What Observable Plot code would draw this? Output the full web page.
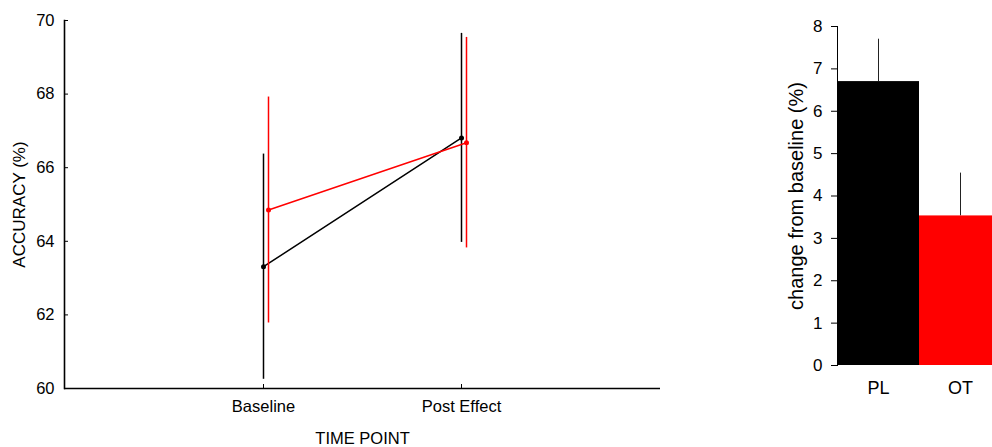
<!DOCTYPE html>
<html>
<head>
<meta charset="utf-8">
<script src="https://cdn.jsdelivr.net/npm/d3@7"></script>
<script src="https://cdn.jsdelivr.net/npm/@observablehq/plot@0.6"></script>
<style>
  html, body { margin: 0; padding: 0; background: white; overflow: hidden; }
  #wrap { position: relative; width: 992px; height: 447px; overflow: hidden; }
  #accuracy { position: absolute; left: 0; top: 0; }
  #change { position: absolute; left: 700px; top: 0; }
  svg { font-family: Arial, "Liberation Sans", sans-serif; }
</style>
</head>
<body>
<div id="wrap">
  <div id="accuracy"></div>
  <div id="change"></div>
</div>
<script>
// Accuracy by time point, mean ± error for each group
const timePoints = ["Baseline", "Post Effect"];
const plMean = [63.31, 66.81];
const plErr = [3.06, 2.84];
const otMean = [64.85, 66.68];
const otErr = [3.07, 2.86];

// Change from baseline per group
const groups = ["PL", "OT"];
const changeMean = [6.70, 3.53];
const changeErr = [1.00, 1.01];

const accuracyTicks = [60, 62, 64, 66, 68, 70];
const changeTicks = [0, 1, 2, 3, 4, 5, 6, 7, 8];

const pl = timePoints.map((t, i) => ({time: t, mean: plMean[i], lo: plMean[i] - plErr[i], hi: plMean[i] + plErr[i]}));
const ot = timePoints.map((t, i) => ({time: t, mean: otMean[i], lo: otMean[i] - otErr[i], hi: otMean[i] + otErr[i]}));

const left = Plot.plot({
  width: 700,
  height: 447,
  marginLeft: 64,
  marginRight: 40,
  marginTop: 20,
  marginBottom: 59,
  style: {fontSize: "16px", fontFamily: "Arial, 'Liberation Sans', sans-serif", color: "black", background: "white"},
  x: {type: "point", domain: timePoints, padding: 1},
  y: {domain: [60, 70]},
  marks: [
    Plot.axisY({ticks: accuracyTicks, tickSize: -4, tickPadding: 14, label: null, fontSize: 16.5}),
    Plot.text(["ACCURACY (%)"], {frameAnchor: "left", rotate: -90, textAnchor: "middle", lineAnchor: "top", dx: -52, fontSize: 17, fill: "black"}),
    Plot.axisX({tickSize: -4, tickPadding: 16, label: "TIME POINT", labelArrow: "none", labelAnchor: "center", labelOffset: 55, fontSize: 16.5}),
    Plot.frame({anchor: "left", strokeWidth: 1.6}),
    Plot.ruleY([60], {strokeWidth: 1.6}),
    // placebo group
    Plot.ruleX(pl, {x: "time", y1: "lo", y2: "hi", stroke: "black", strokeWidth: 1.5}),
    Plot.line(pl, {x: "time", y: "mean", stroke: "black", strokeWidth: 1.5}),
    Plot.dot(pl, {x: "time", y: "mean", r: 2.5, fill: "black"}),
    // oxytocin group, nudged right so the error bars don't overlap
    Plot.ruleX(ot, {x: "time", y1: "lo", y2: "hi", stroke: "red", strokeWidth: 1.5, dx: 5}),
    Plot.line(ot, {x: "time", y: "mean", stroke: "red", strokeWidth: 1.5, dx: 5}),
    Plot.dot(ot, {x: "time", y: "mean", r: 2.5, fill: "red", dx: 5})
  ]
});
document.getElementById("accuracy").appendChild(left);

const change = groups.map((g, i) => ({group: g, mean: changeMean[i], top: changeMean[i] + changeErr[i]}));

const right = Plot.plot({
  width: 292,
  height: 447,
  marginLeft: 137,
  marginRight: 0,
  marginTop: 26,
  marginBottom: 82,
  style: {fontSize: "17px", fontFamily: "Arial, 'Liberation Sans', sans-serif", color: "black", background: "white"},
  x: {type: "band", domain: groups, padding: 0, range: [137, 301]},
  y: {domain: [0, 8]},
  marks: [
    Plot.ruleX(change, {x: "group", y1: "mean", y2: "top", stroke: "#222", strokeWidth: 1}),
    Plot.barY(change, {x: "group", y: "mean", fill: d => d.group === "PL" ? "black" : "red"}),
    Plot.axisY({ticks: changeTicks, tickSize: 6, tickPadding: 9, label: null, fontSize: 17}),
    Plot.text(["change from baseline (%)"], {frameAnchor: "left", rotate: -90, textAnchor: "middle", lineAnchor: "top", dx: -49, fontSize: 20, fill: "black"}),
    Plot.axisX({tickSize: 0, tickPadding: 16, label: null, fontSize: 18}),
    Plot.frame({anchor: "left"})
  ]
});
document.getElementById("change").appendChild(right);
</script>
</body>
</html>
